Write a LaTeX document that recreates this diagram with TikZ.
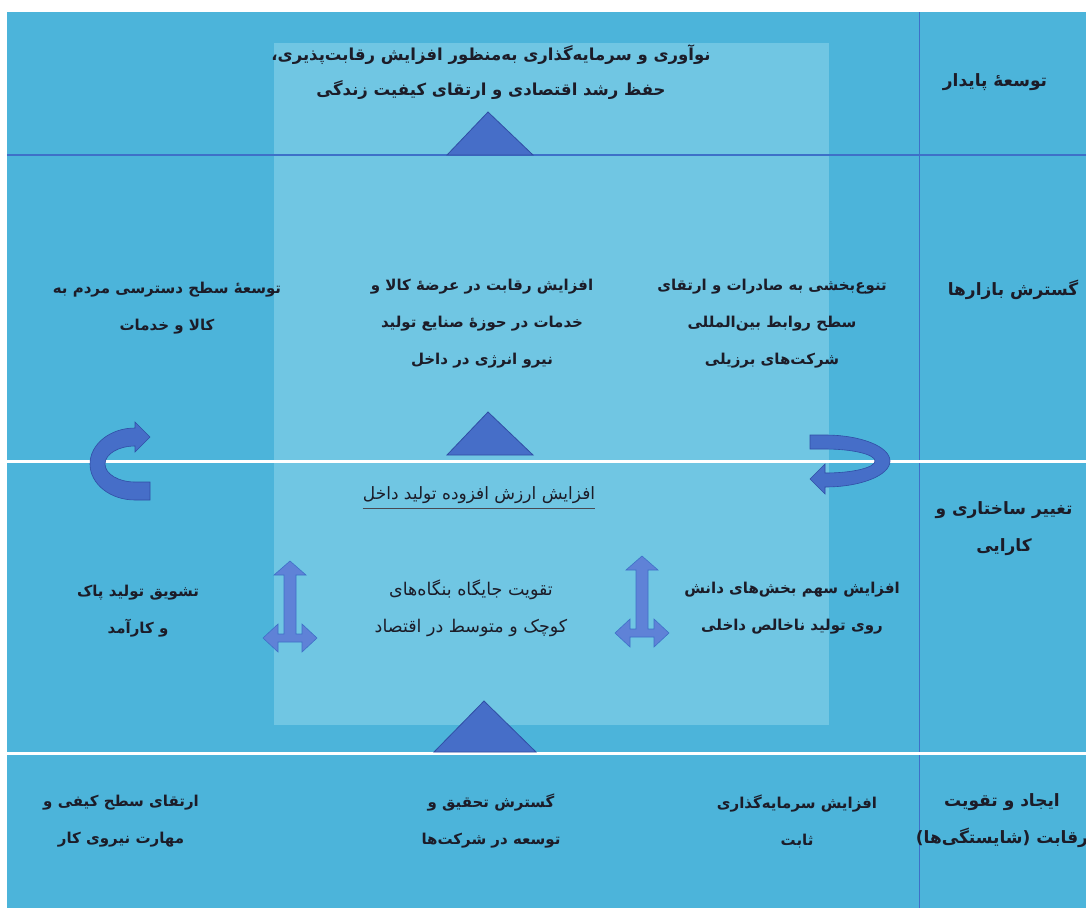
\documentclass[tikz,border=0pt]{standalone}
\usepackage{fontspec}
\newfontfamily\fa[Script=Arabic]{DejaVu Sans}
\TeXXeTstate=1
\usetikzlibrary{positioning}
\definecolor{bgblue}{RGB}{76,180,218}
\definecolor{paneblue}{RGB}{112,198,227}
\definecolor{rulblue}{RGB}{62,112,200}
\definecolor{trifill}{RGB}{70,110,200}
\definecolor{triedge}{RGB}{48,78,165}
\definecolor{arrfill}{RGB}{95,130,215}
\definecolor{ink}{RGB}{28,28,40}
\newcommand{\rl}[1]{\beginR #1\endR}
\tikzset{
    txt/.style ={align=center, inner sep=0pt, text=ink, font=\fa\bfseries\fontsize{15}{37}\selectfont},
    head/.style ={txt, font=\fa\bfseries\fontsize{17}{37}\selectfont},
    top/.style ={txt, font=\fa\bfseries\fontsize{16.5}{35}\selectfont},
    plain/.style ={txt, font=\fa\fontsize{17.5}{37}\selectfont},
    tri/.style = {fill=trifill, draw=triedge, line width=0.8pt},
    uturn/.style = {fill=trifill, draw=triedge, line width=0.6pt},
    pics/tee/.style = {code={
        \filldraw[fill=arrfill, draw=rulblue, line width=0.6pt]
            (0,-77) -- (16,-63) -- (6,-63) -- (6,-4) -- (12,-4) -- (12,-14) -- (27,0)
            -- (12,14) -- (12,4) -- (-12,4) -- (-12,14) -- (-27,0) -- (-12,-14)
            -- (-12,-4) -- (-6,-4) -- (-6,-63) -- (-16,-63) -- cycle;
    }}
}

\begin{document}
\begin{tikzpicture}[x=1pt, y=-1pt]
    \useasboundingbox (0,0) rectangle (1086,908);
    % background and middle pane
    \fill[bgblue] (7,12) rectangle (1086,908);
    \fill[paneblue] (274,43) rectangle (829,725);

    % grid lines
    \draw[rulblue, line width=1.2pt] (7,155) -- (1086,155);
    \draw[rulblue, line width=1pt] (919,12) -- (919,908);
    \draw[white, line width=3pt] (7,461) -- (1086,461);
    \draw[white, line width=3pt] (7,753) -- (1086,753);

    % triangles
    \filldraw[tri] (447,155) -- (488,112) -- (533,155) -- cycle;
    \filldraw[tri] (447,455) -- (488,412) -- (533,455) -- cycle;
    \filldraw[tri] (434,752) -- (484,701) -- (536,752) -- cycle;

    % curved arrows
    \filldraw[uturn] (150,500) -- (135,500) arc[start angle=90, end angle=270, x radius=45, y radius=36]
        -- (135,422) -- (150,437) -- (135,452) -- (135,446)
        arc[start angle=270, end angle=90, x radius=30, y radius=18] -- (150,482) -- cycle;
    \filldraw[uturn] (810,435) -- (825,435) arc[start angle=-90, end angle=90, x radius=65, y radius=26]
        -- (825,494) -- (810,479) -- (825,464) -- (825,473)
        arc[start angle=90, end angle=-90, x radius=50, y radius=12] -- (810,449) -- cycle;

    % three-way arrows
    \pic at (290,638) {tee};
    \pic at (642,633) {tee};

    % row headers
    \node[head] (pay) at (995,82) {\rl{توسعهٔ پایدار}};
    \node[head] (bazar) at (1013,290) {\rl{گسترش بازارها}};
    \node[head] (sakht) at (1004,529) {\rl{تغییر ساختاری و}\\\rl{کارایی}};
    \node[head] (reqab) at (1002,821) {\rl{ایجاد و تقویت}\\\rl{رقابت (شایستگی‌ها)}};

    % top row
    \node[top] (noavar) at (491,72) {\rl{نوآوری و سرمایه‌گذاری به‌منظور افزایش رقابت‌پذیری،}\\\rl{حفظ رشد اقتصادی و ارتقای کیفیت زندگی}};

    % markets row
    \node[txt] (tanavo) at (772,324) {\rl{تنوع‌بخشی به صادرات و ارتقای}\\\rl{سطح روابط بین‌المللی}\\\rl{شرکت‌های برزیلی}};
    \node[txt] (arze) at (482,324) {\rl{افزایش رقابت در عرضهٔ کالا و}\\\rl{خدمات در حوزهٔ صنایع تولید}\\\rl{نیرو انرژی در داخل}};
    \node[txt] (dastres) at (167,308) {\rl{توسعهٔ سطح دسترسی مردم به}\\\rl{کالا و خدمات}};

    % structural row
    \node[plain, font=\fa\fontsize{17}{37}\selectfont] (arzesh) at (479,495) {\rl{افزایش ارزش افزوده تولید داخل}};
    \draw[ink!80, line width=0.8pt] ([yshift=-5pt]arzesh.south west) -- ([yshift=-5pt]arzesh.south east);
    \node[txt] (sahm) at (792,608) {\rl{افزایش سهم بخش‌های دانش}\\\rl{روی تولید ناخالص داخلی}};
    \node[plain] (bongah) at (471,608) {\rl{تقویت جایگاه بنگاه‌های}\\\rl{کوچک و متوسط در اقتصاد}};
    \node[txt] (pak) at (138,611) {\rl{تشویق تولید پاک}\\\rl{و کارآمد}};

    % competition row
    \node[txt] (sabet) at (797,821) {\rl{افزایش سرمایه‌گذاری}\\\rl{ثابت}};
    \node[txt] (tahqiq) at (491,821) {\rl{گسترش تحقیق و}\\\rl{توسعه در شرکت‌ها}};
    \node[txt] (maharat) at (121,821) {\rl{ارتقای سطح کیفی و}\\\rl{مهارت نیروی کار}};
\end{tikzpicture}
\end{document}
